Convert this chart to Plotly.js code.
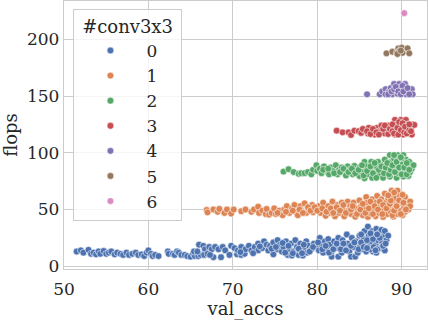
<!DOCTYPE html>
<html>
<head>
<meta charset="utf-8">
<script src="https://cdn.plot.ly/plotly-3.0.1.min.js"></script>
<style>html,body{margin:0;padding:0;background:#fff}</style>
</head>
<body>
<div id="plot" style="width:428px;height:320px"></div>
<script>
// values, [val_accs, flops]
var conv0 = [[51.5,13],[52,14],[52.3,12],[52.9,14.5],[53.2,11],[53.5,12],[53.8,10.5],[54.1,13],[54.3,11],[54.7,13.5],[55,11],[55.3,12],[55.6,13],[56,10.5],[56.3,12],[56.7,11],[57,10],[57.4,12],[57.7,10],[58.1,11],[58.5,12],[58.8,10],[59.2,10.5],[59.5,9],[59.8,12],[60,14],[60.3,11],[60.5,9],[60.8,10],[61.2,9],
[62.3,13],[62.4,11],[62.9,11],[63.1,10],[63.4,13],[63.6,12],[63.9,10],[64.3,10],[64.6,9],[65,8.5],[65.3,11],[65.5,9],[65.9,9],[66.2,10],[65.4,13],[66,19],[66.5,18],[66.7,15],[66.6,10],[65.8,13],[67.2,17],[67.5,15],[67.9,17],[68.3,15],[68.8,17],[69.1,14],[67.7,8],[68.6,8],[69.6,10],[69.8,18],[67,11],[67.3,10],
[70.2,16],[70.5,10.5],[70.6,14],[71,17],[71,10],[71.4,11],[71.5,15],[71.9,18],[72.2,14],[72.6,17],[73,20],[73,14],[73.5,16],[73.7,22],[74,19],[74.2,14],[74.4,18],[74.8,10.5],[74.8,21],[75.3,15],[75.3,23],[75.6,19],[75.8,13],[76,17],[76.3,22],[76.5,10],[76.7,15],[76.9,20],[77,9.5],[77.2,13],[77.4,23],[77.6,17],[77.8,10],[78,20],[78,14],[78.3,9.5],[78.5,17],[78.7,22],[78.8,12],[79,18],[79.3,15],[79.6,20],[79.9,17],
[80.2,14],[80.3,25],[80.5,19],[80.7,12],[80.9,22],[81.1,16],[81.3,24],[81.5,19],[81.7,8.5],[81.7,13],[82,22],[82.2,16],[82.5,8.5],[82.5,25],[82.7,19],[82.9,12],[83,23],[83.2,16],[83.5,28],[83.6,20],[83.8,13],[84,8.5],[84.1,25],[84.3,17],[84.5,8.5],[84.6,22],[84.8,12],[85,27],[85.1,18],[85.3,15],[85.5,24],[85.6,31],[85.7,20],[85.8,13],[86,35],[86.1,27],[86.2,17],[86.4,22],[86.5,31],[86.6,13],[86.8,26],[86.9,19],[87,33],[87,12],[87.2,23],[87.3,29],[87.5,16],[87.6,32],[87.7,21],[87.9,26],[88,14],[88,31],[88.2,23],[88.4,27],
[70.9,12.5],[72.4,11.5],[73.2,17.5],[74.6,15.5],[75.1,17],[75.9,20.5],[76.2,12],[76.6,18],[77.1,11.5],[77.8,15.5],[78.2,11.5],[78.4,19],[79.1,13],[79.5,17],[80.1,21],[80.6,15],[81,18],[81.4,12],[81.9,15],[82.3,20],[82.8,15],[83.1,20],[83.4,14],[84,18],[84.4,21],[84.9,15],[85.2,21],[85.5,17],[85.9,23],[86.3,15],[86.6,24],[86.7,17],[87.1,15],[87.4,25],[87.8,18],[88.1,20],[85.2,28],[86.3,29],[87.1,28],[85.9,16],[86.9,14]];

var conv1 = [[66.9,49.6],[67,47.5],[67.7,50],[68.2,48],[68.4,50.5],[69,47],[69.3,50],[69.8,46.5],[70.1,50],
[71,48.5],[71.5,50],[72.2,48],[72.5,50],[73,52.5],[73.1,47],[73.5,49],[73.9,46],[74,50.5],[74.3,45.5],[74.6,47],[74.9,51],[75.1,46],[75.5,49],[75.9,45],[76.1,50],[76.4,53],[76.7,47],[77,51],[77.3,54],[77.4,48],[77.7,45],[78,53],[78.1,49],[78.5,55.5],[78.7,47],[79,51],[79.4,54],[79.5,47.5],[79.8,50],
[80.2,53],[80.4,47],[80.7,56],[80.9,50],[81,44.5],[81.3,53],[81.5,47],[81.8,57],[82,50],[82.1,44],[82.4,54],[82.6,47],[82.9,56],[83,51],[83.2,44],[83.6,57],[83.7,49],[83.9,53],[84,46],[84.3,56],[84.5,43.7],[84.6,51],[84.9,48],[85,58],[85.2,53],[85.4,45],[85.6,50],[85.8,61],[85.9,56],[86,43.5],[86.2,47],[86.4,53],[86.5,59],[86.7,50],[86.9,44],[87,56],[87.1,62],[87.3,47],[87.5,53],[87.6,59],[87.8,43.5],[87.9,50],[88,64],[88.1,56],[88.3,46],[88.4,60],[88.5,53],[88.7,48],[88.8,66.6],[88.9,57],[89,43.7],[89,63],[89.2,51],[89.3,60],[89.5,66.6],[89.5,46],[89.6,55],[89.8,62],[89.9,49],[90,58],[90.1,45],[90.3,52],[90.4,61],[90.4,48],[90.6,55],[90.8,50],[91,57],[91,53],
[75.3,47],[76.3,48],[77.1,49],[77.9,50],[78.3,47],[78.9,52],[79.2,49],[79.7,52],[80,49],[80.6,51],[81.1,48],[81.6,51],[81.9,47],[82.3,52],[82.7,49],[83.1,54],[83.4,47],[84,50],[84.2,53],[84.7,46],[85.1,50],[85.4,55],[85.7,47],[86.1,51],[86.3,57],[86.6,46],[86.8,53],[87.2,50],[87.4,57],[87.7,46],[87.8,54],[88.2,51],[88.6,55],[88.7,58],[88.9,45],[89.1,49],[89.4,53],[89.7,58],[89.9,46],[90.2,56],[90.5,50],[90.1,63],[89.1,65],[88.4,62.5]];

var conv2 = [[76,83.4],[76.6,85.5],[77.2,83],[77.8,81.5],[78.1,82],[78.5,82],[78.9,83],[79.3,81],[79.5,85],[79.9,89],[80,84],[80.3,86],[80.5,82],[80.8,88],[81.1,84],[81.4,81],[81.6,87],[81.9,84],[82.2,89],[82.4,81],[82.6,85],[82.9,87],[83.2,83],[83.4,80],[83.6,88],[83.9,85],[84.2,81],[84.4,88.4],[84.7,84],[85,79.5],[85,87],[85.3,83],[85.6,92],[85.6,77.5],[85.8,88],[86,81],[86.2,85],[86.4,92],[86.5,78],[86.7,89],[86.9,83],[87.1,87],[87.2,92],[87.4,80],[87.6,85],[87.8,78],[87.9,90],[88,94],[88.2,83],[88.4,87],[88.6,98],[88.6,79],[88.8,92],[89,85],[89.1,95],[89.3,89],[89.4,78],[89.5,98],[89.6,82],[89.8,93],[89.9,86],[90.1,90],[90.2,98],[90.2,79],[90.4,84],[90.5,94],[90.7,88],[90.8,79.6],[90.9,92],[91,83],[91.2,86],[91.4,89],
[80.7,85],[81.3,86],[82,82],[82.7,83],[83.1,86],[83.7,83],[84.1,86],[84.5,82],[84.9,85],[85.3,89],[85.5,80],[85.9,84],[86.3,88],[86.6,82],[86.8,91],[87,78],[87.3,85],[87.6,88],[87.9,82],[88.1,87],[88.3,91],[88.5,81],[88.7,85],[88.9,89],[89.2,83],[89.4,92],[89.7,87],[90,81],[90,95],[90.3,87],[90.6,81],[90.6,91],[90.9,85],[89.1,98],[89.9,96]];

var conv3 = [[82.3,119.5],[83,118],[83.7,118],[84,115.7],[84.4,119.5],[84.9,119],[85.2,117.5],[85.6,120],[86,117],[86.1,122],[86.5,119],[86.8,116],[87.1,122],[87.4,119],[87.6,124],[88,117],[88.2,121],[88.5,124],[88.7,118],[89,122],[89.2,129],[89.2,116],[89.4,125],[89.7,119],[89.9,129],[90,123],[90.2,116],[90.5,129],[90.5,120],[90.7,125],[91,118],[91.1,122],[91.2,116],[91.3,125],[91.5,124.5],
[85.4,121],[85.9,119],[86.3,116.5],[86.6,121],[87,118],[87.3,116],[87.8,121],[88,124],[88.4,116.5],[88.6,121],[88.9,119],[88.9,125],[89.1,117],[89.5,122],[89.6,116],[89.7,127],[89.9,120],[90.1,126],[90.3,118],[90.4,123],[90.6,117],[90.9,120],[90.9,125],[91.1,119]];

var conv4 = [[85.9,151.5],[87.4,151.5],[87.7,154],[88.1,156],[88.1,151.5],[88.5,154],[88.7,157],[88.9,151.5],[89.1,160.6],[89.3,155],[89.5,152],[89.7,160.6],[89.8,157],[90,153],[90.4,160.6],[90.4,156],[90.5,151.5],[90.8,153],[91.2,156],[91.3,151.5],
[88.4,151.5],[88.8,154],[89.1,156],[89.3,158],[89.6,154],[89.9,151.5],[90.1,159],[90.2,154],[90.7,157],[90.9,151.5]];

var conv5 = [[88.2,187.6],[88.9,189],[89.4,188],[89.6,192],[89.7,189.5],[90,192.5],[90.1,188],[90.7,192],[90.9,187.6],[89.5,187],[89.9,190]];

var conv6 = [[90.3,223]];

var allSeries = [conv0, conv1, conv2, conv3, conv4, conv5, conv6];
var seriesNames = ['0', '1', '2', '3', '4', '5', '6'];
var palette = ['#4c72b0', '#dd8452', '#55a868', '#c44e52', '#8172b3', '#937860', '#da8bc3'];

var traces = allSeries.map(function (pts, i) {
  return {
    x: pts.map(function (p) { return p[0]; }),
    y: pts.map(function (p) { return p[1]; }),
    type: 'scatter',
    mode: 'markers',
    name: seriesNames[i],
    legendgroup: seriesNames[i],
    marker: {color: palette[i], size: 6.8, line: {color: 'rgba(255,255,255,0.8)', width: 0.7}}
  };
});

var font = 'DejaVu Serif';
var ink = '#262626';

var layout = {
  width: 428, height: 320,
  margin: {l: 64, r: 1, t: 1, b: 51},
  paper_bgcolor: 'white', plot_bgcolor: 'white',
  font: {family: font, color: ink, size: 17},
  xaxis: {
    range: [50, 93], tickvals: [50, 60, 70, 80, 90],
    tickfont: {size: 17},
    gridcolor: '#cccccc', gridwidth: 1, zeroline: false,
    showline: true, mirror: true, linecolor: '#cccccc', linewidth: 1.2,
    ticks: 'outside', ticklen: 4, tickcolor: 'rgba(0,0,0,0)',
    title: {text: 'val_accs', font: {size: 18}, standoff: 6}
  },
  yaxis: {
    range: [-2.4, 233.7], tickvals: [0, 50, 100, 150, 200],
    tickfont: {size: 17},
    gridcolor: '#cccccc', gridwidth: 1, zeroline: false,
    showline: true, mirror: true, linecolor: '#cccccc', linewidth: 1.2,
    ticks: '', ticklen: 0,
    title: {text: 'flops', font: {size: 18}, standoff: 7}
  },
  showlegend: true,
  legend: {
    x: 0.026, y: 0.972, xanchor: 'left', yanchor: 'top',
    bgcolor: 'rgba(255,255,255,0.8)', bordercolor: '#cccccc', borderwidth: 1,
    // nbsp padding: the legend box is sized from the title
    title: {text: '\u00a0#conv3x3\u00a0', font: {size: 18}},
    font: {size: 17}, tracegroupgap: 0,
    itemsizing: 'trace', itemwidth: 62
  }
};

Plotly.newPlot('plot', traces, layout, {displayModeBar: false, staticPlot: true});
</script>
</body>
</html>
